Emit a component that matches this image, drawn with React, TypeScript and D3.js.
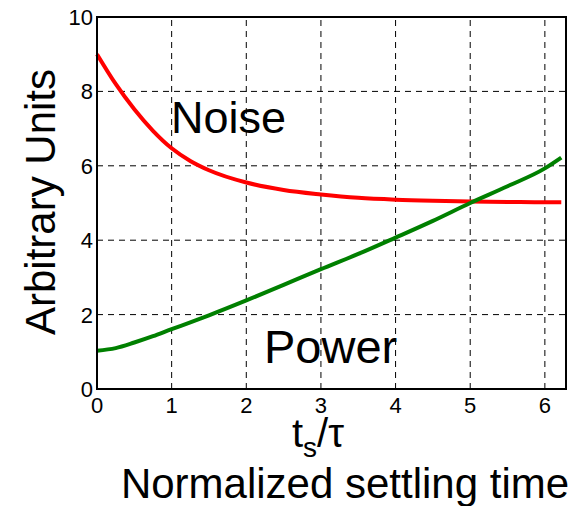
import React, { useEffect, useRef } from 'react';
import * as d3 from 'd3';

// normalized settling time t_s / tau
const tValues = [0, 0.25, 0.5, 0.75, 1, 1.25, 1.5, 2, 2.5, 3, 3.5, 4, 4.5, 5, 5.5, 6, 6.22];
const noiseValues = [9.0, 8.2, 7.52, 6.94, 6.47, 6.13, 5.88, 5.55, 5.35, 5.23, 5.14, 5.09, 5.06, 5.04, 5.03, 5.02, 5.02];
const powerValues = [1.03, 1.1, 1.25, 1.42, 1.61, 1.79, 1.98, 2.38, 2.8, 3.22, 3.63, 4.07, 4.52, 5.0, 5.45, 5.93, 6.22];
const xTicks = [0, 1, 2, 3, 4, 5, 6];
const yTicks = [0, 2, 4, 6, 8, 10];

const W = 586, H = 506;
const margin = { left: 97, right: 20, top: 17, bottom: 117 };

export default function App() {
  const ref = useRef<SVGSVGElement>(null);

  useEffect(() => {
    const svg = d3.select(ref.current);
    svg.selectAll('*').remove();

    const x = d3.scaleLinear().domain([0, 2 * Math.PI]).range([margin.left, W - margin.right]);
    const y = d3.scaleLinear().domain([0, 10]).range([H - margin.bottom, margin.top]);

    const font = 'Liberation Sans, Arial, sans-serif';

    // dashed grid
    const grid = svg.append('g').attr('stroke', '#000').attr('stroke-width', 1).attr('stroke-dasharray', '6,5');
    xTicks.slice(1).forEach((t) => {
      grid.append('line').attr('x1', x(t)).attr('x2', x(t)).attr('y1', y(0)).attr('y2', y(10));
    });
    yTicks.slice(1, -1).forEach((v) => {
      grid.append('line').attr('x1', x(0)).attr('x2', x(2 * Math.PI)).attr('y1', y(v)).attr('y2', y(v));
    });

    // lines
    const line = d3.line<number>()
      .x((d, i) => x(tValues[i]))
      .curve(d3.curveMonotoneX);

    svg.append('path')
      .attr('d', line.y((d) => y(d))(noiseValues))
      .attr('fill', 'none').attr('stroke', '#ff0000').attr('stroke-width', 4);
    svg.append('path')
      .attr('d', line.y((d) => y(d))(powerValues))
      .attr('fill', 'none').attr('stroke', '#008000').attr('stroke-width', 4);

    // frame
    svg.append('rect')
      .attr('x', x(0)).attr('y', y(10))
      .attr('width', x(2 * Math.PI) - x(0)).attr('height', y(0) - y(10))
      .attr('fill', 'none').attr('stroke', '#000').attr('stroke-width', 2);

    // tick labels
    svg.append('g').selectAll('text').data(yTicks).enter().append('text')
      .attr('x', x(0) - 4).attr('y', (d) => y(d)).attr('dy', '0.36em')
      .attr('text-anchor', 'end').attr('font-family', font).attr('font-size', 22)
      .text((d) => d);
    svg.append('g').selectAll('text').data(xTicks).enter().append('text')
      .attr('x', (d) => x(d)).attr('y', y(0) + 24)
      .attr('text-anchor', 'middle').attr('font-family', font).attr('font-size', 22)
      .text((d) => d);

    // axis titles
    svg.append('text')
      .attr('transform', `translate(55,202) rotate(-90)`)
      .attr('text-anchor', 'middle').attr('font-family', font).attr('font-size', 42)
      .text('Arbitrary Units');

    const xl = svg.append('text')
      .attr('x', 318).attr('y', 447)
      .attr('text-anchor', 'middle').attr('font-family', font).attr('font-size', 40);
    xl.append('tspan').text('t');
    xl.append('tspan').attr('font-size', 28).attr('dy', 10).text('s');
    xl.append('tspan').attr('dy', -10).text('/τ');

    svg.append('text')
      .attr('x', 345).attr('y', 498)
      .attr('text-anchor', 'middle').attr('font-family', font).attr('font-size', 42)
      .text('Normalized settling time');

    // curve labels
    svg.append('text').attr('x', 171).attr('y', 133)
      .attr('font-family', font).attr('font-size', 45).text('Noise');
    svg.append('text').attr('x', 264).attr('y', 363)
      .attr('font-family', font).attr('font-size', 47).text('Power');
  }, []);

  return (
    <svg ref={ref} width={W} height={H}
      style={{ position: 'absolute', left: 0, top: 0, background: '#fff' }} />
  );
}
